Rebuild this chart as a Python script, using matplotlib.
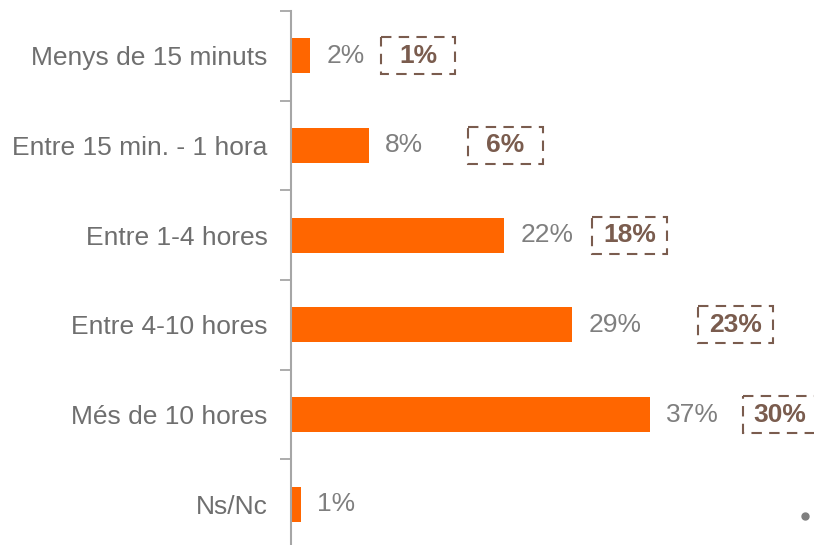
import matplotlib
matplotlib.use("Agg")
import matplotlib.pyplot as plt
from matplotlib.patches import Rectangle
from matplotlib.ticker import FixedLocator

categories = ["Menys de 15 minuts", "Entre 15 min. - 1 hora", "Entre 1-4 hores",
              "Entre 4-10 hores", "Més de 10 hores", "Ns/Nc"]
values = [2, 8, 22, 29, 37, 1]
compare_values = [1, 6, 18, 23, 30]
compare_xpos = [13.1, 22.1, 34.9, 45.8, 50.4]

plt.rcParams['font.family'] = ['Liberation Sans', 'DejaVu Sans']

W, H = 814, 545
fig = plt.figure(figsize=(W / 100, H / 100), dpi=100)
left_px, top_px, bottom_px = 291, 11, 549
ax = fig.add_axes([left_px / W, (H - bottom_px) / H, (W - left_px) / W, (bottom_px - top_px) / H])

bar_color = "#FF6600"
ypos = list(range(len(categories)))
ax.barh(ypos, values, height=0.39, color=bar_color)
ax.set_ylim(len(categories) - 0.5, -0.5)
ax.set_xlim(0, 53.9)

for y, v in zip(ypos, values):
    ax.annotate(f"{v}%", xy=(v, y), xytext=(11.5, 0), textcoords="offset points",
                ha="left", va="center", fontsize=19, color="#7F7F7F")

brown = "#7A5C4E"
bw, bh = 7.7, 0.41
for y, (v, xc) in enumerate(zip(compare_values, compare_xpos)):
    rect = Rectangle((xc - bw / 2, y - bh / 2), bw, bh, fill=False, edgecolor=brown,
                     linewidth=1.5, linestyle=(0, (5, 3.5)), clip_on=False)
    ax.add_patch(rect)
    ax.text(xc, y, f"{v}%", ha="center", va="center", fontsize=19,
            fontweight="bold", color=brown)

ax.set_yticks(ypos)
ax.set_yticklabels(categories, fontsize=19, color="#6F6F6F")
ax.yaxis.set_minor_locator(FixedLocator([i - 0.5 for i in range(len(categories) + 1)]))
ax.tick_params(axis="y", which="major", length=0, pad=17)
ax.tick_params(axis="y", which="minor", length=8, width=1.3, color="#A6A6A6")
ax.set_xticks([])
for s in ["top", "right", "bottom"]:
    ax.spines[s].set_visible(False)
ax.spines["left"].set_color("#A6A6A6")
ax.spines["left"].set_linewidth(1.5)

fig.patches.append(plt.Circle((805 / W, (H - 516) / H), 0.0, transform=fig.transFigure))
fig.add_artist(plt.Line2D([805 / W], [(H - 516) / H], marker="o", markersize=5,
                          color="#7F7F7F", transform=fig.transFigure))

fig.savefig("out.png", dpi=100)
